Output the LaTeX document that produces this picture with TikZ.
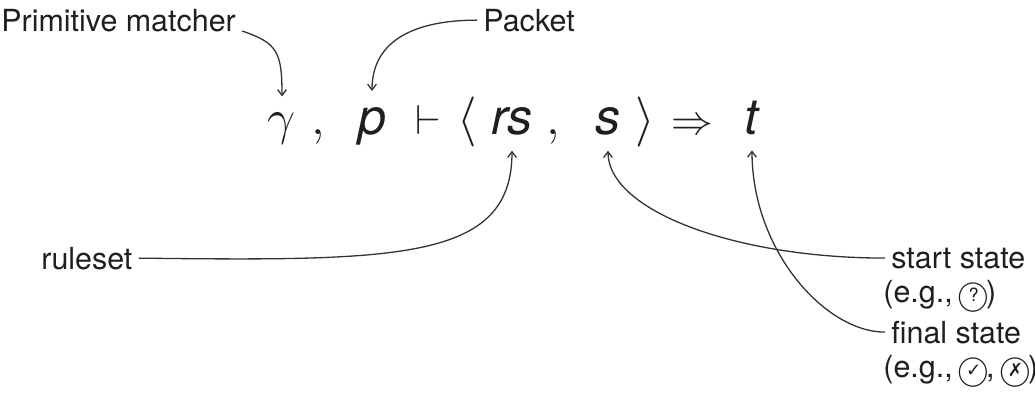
\documentclass[tikz,border=0pt]{standalone}
\usepackage{amsmath, amssymb}
\usepackage{graphicx}
\usepackage{fontspec}
\setmainfont{TeX Gyre Heros}
\newfontfamily\symfont{DejaVu Sans}
\usepackage{tikz}
\usetikzlibrary{arrows.meta}

% small circled marks for the state examples
\newcommand\encircle[1]{\makebox[0.82em]{\raisebox{-1.2pt}{\ooalign{$\bigcirc$\cr\hfil\raisebox{1.3pt}{\scalebox{0.6}{#1}}\hfil\cr}}}}

\tikzset{
  lbl/.style={inner sep=2pt, text=black!88, font=\fontsize{10.5}{12.6}\selectfont},
  part/.style={inner sep=0pt, outer sep=5.5pt, text=black!88},
  pointer/.style={-{Straight Barb[length=2pt,width=3pt]}, draw=black!80, line width=0.45pt},
}

\begin{document}
\begin{tikzpicture}[x=0.345pt, y=-0.345pt]
      \useasboundingbox (0,0) rectangle (1035,393);
      % the judgement
      \node[part, anchor=base, font=\LARGE] (gam) at (282,134) {$\gamma$};
      \node[part, anchor=base, font=\LARGE] (c1) at (318,134) {$,$};
      \node[part, anchor=base, font=\LARGE] (pk) at (372,134) {\textit{p}};
      \node[part, anchor=base, font=\Large] (turn) at (428,134) {$\vdash$};
      \node[part, anchor=base, font=\LARGE] (lang) at (467,134) {$\langle$};
      \node[part, anchor=base, font=\LARGE] (rs) at (512,134) {\textit{rs}};
      \node[part, anchor=base, font=\LARGE] (c2) at (553,134) {$,$};
      \node[part, anchor=base, font=\LARGE] (st) at (608,134) {\textit{s}};
      \node[part, anchor=base, font=\LARGE] (rang) at (645,134) {$\rangle$};
      \node[part, anchor=base, font=\Large] (imp) at (692,134) {$\Rightarrow$};
      \node[part, anchor=base, font=\LARGE] (tt) at (752,134) {\textit{t}};
      % the labels
      \node[lbl, anchor=base west] (matcher) at (-5,31) {Primitive matcher};
      \node[lbl, anchor=base west] (packet) at (477,31) {Packet};
      \node[lbl, anchor=base west] (ruleset) at (35,269) {ruleset};
      \node[lbl, anchor=base west] (start) at (885,268) {start state};
      \node[lbl, anchor=base west] (startex) at (877,302) {(e.g., \encircle{?})};
      \node[lbl, anchor=base west] (final) at (885,343) {final state};
      \node[lbl, anchor=base west] (finalex) at (877,377) {(e.g., \encircle{\symfont ✓}, \encircle{\symfont ✗})};
      % pointers
      \draw[pointer] (matcher.base east) .. controls +(35,12) and +(0,-45) .. (gam.north);
      \draw[pointer] (packet.west) .. controls +(-60,0) and +(0,-52) .. (pk.north);
      \draw[pointer] (ruleset.east) .. controls +(260,3) and +(0,110) .. (rs.south);
      \draw[pointer] (start.west) .. controls +(-150,0) and +(0,60) .. (st.south);
      \draw[pointer] (final.west) .. controls +(-60,0) and +(0,100) .. (tt.south);
\end{tikzpicture}
\end{document}
